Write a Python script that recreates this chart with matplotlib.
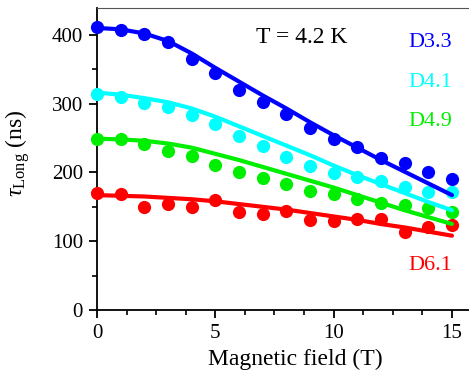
import matplotlib
matplotlib.use("Agg")
import matplotlib.pyplot as plt
from matplotlib.ticker import MultipleLocator

plt.rcParams["font.family"] = ["Liberation Serif", "DejaVu Serif"]
plt.rcParams["mathtext.fontset"] = "custom"
plt.rcParams["mathtext.rm"] = "Liberation Serif"
plt.rcParams["mathtext.it"] = "Liberation Serif:italic"

# field values (T)
field = list(range(16))

# measured lifetimes (ns)
tau_d33 = [411, 407, 401, 389, 365, 344, 320, 302, 285, 264, 249, 237, 221, 213, 200, 190]
tau_d41 = [314, 309, 301, 295, 284, 270, 253, 239, 223, 209, 199, 193, 188, 179, 172, 171]
tau_d49 = [249, 248, 241, 231, 224, 211, 201, 192, 183, 173, 168, 162, 156, 152, 148, 143]
tau_d61 = [170, 168, 150, 154, 149, 160, 142, 139, 144, 131, 129, 133, 132, 114, 121, 124]

# model curves at the same fields (ns)
fit_d33 = [410, 408, 402, 391, 373, 352, 332, 312, 293, 273, 254, 236, 218, 201, 184, 167]
fit_d41 = [316, 313, 308, 302, 293, 281, 267, 253, 239, 225, 210, 196, 183, 170, 157, 145]
fit_d49 = [249, 248, 246, 242, 236, 227, 218, 208, 198, 188, 178, 167, 156, 145, 135, 125]
fit_d61 = [167, 166, 165, 163, 161, 158, 154, 150, 146, 141, 136, 131, 125, 120, 114, 108]

labels = ["D3.3", "D4.1", "D4.9", "D6.1"]
colors = ["#0000ff", "#00ffff", "#00ee00", "#ff0000"]
label_y = [382, 324, 268, 58]

fig = plt.figure(figsize=(4.69, 3.71), dpi=100)
ax = fig.add_axes([97 / 469., 61 / 371., 372 / 469., 302 / 371.])

data = [tau_d33, tau_d41, tau_d49, tau_d61]
fits = [fit_d33, fit_d41, fit_d49, fit_d61]
for tau, fit, col, lab, ly in zip(data, fits, colors, labels, label_y):
    ax.plot(field, tau, "o", color=col, ms=9.5, mew=0, clip_on=False, zorder=3)
    ax.plot(field, fit, "-", color=col, lw=3.0, solid_capstyle="round", zorder=4)
    ax.text(15.0, ly, lab, color=col, fontsize=16, ha="right", va="baseline")

ax.text(6.72, 388, "T = 4.2 K", fontsize=17, ha="left", va="baseline")

ax.set_xlim(0, 15.72)
ax.set_ylim(0, 439)
ax.xaxis.set_major_locator(MultipleLocator(5))
ax.xaxis.set_minor_locator(MultipleLocator(1.25))
ax.yaxis.set_major_locator(MultipleLocator(100))
ax.yaxis.set_minor_locator(MultipleLocator(50))

ax.spines["right"].set_visible(False)
ax.spines["top"].set_color("#555555")
for s in ["left", "bottom"]:
    ax.spines[s].set_linewidth(1.3)
ax.tick_params(which="major", direction="out", length=6, width=1.3, labelsize=15, pad=4)
ax.tick_params(which="minor", direction="out", length=3.5, width=1.2)
ax.tick_params(top=False, right=False)

ax.set_xlabel("Magnetic field (T)", fontsize=17)
ax.xaxis.set_label_coords(0.532, -0.128)
ax.set_ylabel(r"$\tau_{\mathrm{Long}}$ (ns)", fontsize=17)
ax.yaxis.set_label_coords(-0.175, 0.52)

fig.savefig("out.png", dpi=100)
